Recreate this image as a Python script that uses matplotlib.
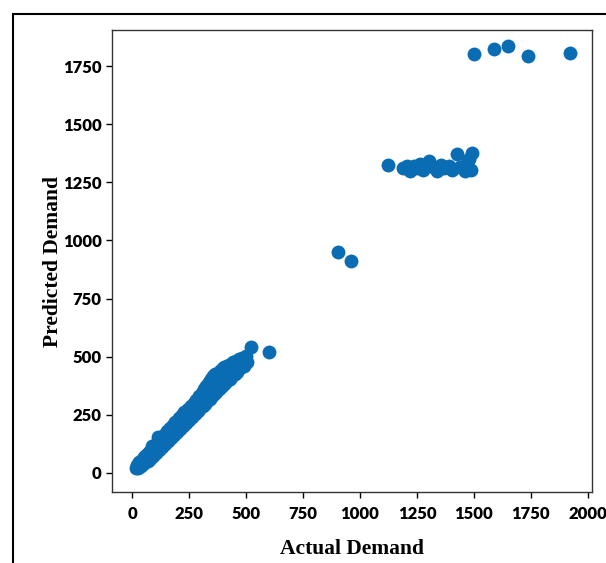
import matplotlib.pyplot as plt
from matplotlib.patches import Rectangle

# low-demand cluster (actual, predicted)
actual_low = [18, 22, 28, 32, 38, 42, 48, 52, 58, 62,
              68, 75, 80, 88, 92, 100, 105, 114, 120, 125,
              132, 140, 146, 152, 158, 165, 170, 178, 185, 190,
              198, 205, 210, 218, 225, 230, 238, 245, 250, 258,
              262, 270, 276, 282, 288, 295, 300, 305, 310, 315,
              320, 326, 330, 336, 340, 345, 350, 356, 360, 365,
              370, 375, 380, 385, 390, 395, 400, 405, 410, 415,
              420, 425, 430, 436, 440, 445, 450, 455, 462, 468,
              475, 482, 490, 498, 505, 520, 600]
predicted_low = [22, 34, 20, 45, 28, 55, 38, 68, 45, 78,
                 52, 90, 62, 118, 75, 122, 85, 155, 100, 150,
                 112, 165, 125, 180, 138, 195, 150, 205, 165, 220,
                 178, 235, 190, 250, 200, 262, 215, 275, 228, 290,
                 240, 300, 252, 315, 265, 330, 278, 345, 290, 360,
                 298, 375, 310, 390, 320, 405, 330, 415, 340, 425,
                 350, 430, 360, 440, 370, 445, 378, 455, 388, 460,
                 398, 465, 405, 470, 415, 475, 425, 480, 435, 488,
                 450, 495, 460, 505, 478, 540, 520]

# mid points
actual_mid = [903, 960]
predicted_mid = [950, 911]

# ~1300 cluster
actual_1300 = [1123, 1190, 1205, 1220, 1235, 1250, 1262, 1275, 1290, 1305,
               1320, 1340, 1355, 1370, 1390, 1405, 1425, 1440, 1460, 1470,
               1480, 1491, 1485]
predicted_1300 = [1325, 1310, 1318, 1300, 1322, 1312, 1330, 1305, 1320, 1340,
                  1315, 1300, 1325, 1310, 1318, 1302, 1370, 1315, 1300, 1335,
                  1350, 1376, 1305]

# top points
actual_high = [1500, 1588, 1649, 1737, 1921]
predicted_high = [1801, 1823, 1836, 1793, 1806]

x_ticks = [0, 250, 500, 750, 1000, 1250, 1500, 1750, 2000]
y_ticks = [0, 250, 500, 750, 1000, 1250, 1500, 1750]

color = '#0a6db3'

fig = plt.figure(figsize=(6.06, 5.63), dpi=100)
ax = fig.add_axes([0.1848, 0.1261, 0.7921, 0.8206])

for xs, ys in [(actual_low, predicted_low), (actual_mid, predicted_mid),
               (actual_1300, predicted_1300), (actual_high, predicted_high)]:
    ax.scatter(xs, ys, s=100, color=color, linewidths=0)

ax.set_xlim(-88, 2018)
ax.set_ylim(-82, 1905)
ax.set_xticks(x_ticks)
ax.set_yticks(y_ticks)
ax.tick_params(direction='out', length=4, width=1)
ax.tick_params(axis='x', pad=6)
for lab in ax.get_xticklabels() + ax.get_yticklabels():
    lab.set_fontfamily('Lato')
    lab.set_fontweight('heavy')
    lab.set_fontsize(12)

ax.set_xlabel('Actual Demand', fontfamily='Liberation Serif', fontweight='bold',
              fontsize=15.5, labelpad=12)
ax.set_ylabel('Predicted Demand', fontfamily='Liberation Serif', fontweight='bold',
              fontsize=15.5, labelpad=0)

for sp in ax.spines.values():
    sp.set_linewidth(1.0)
    sp.set_color('#333333')

# outer frame
fig.add_artist(Rectangle((13 / 606, -0.2), 1.5, 1.2 - 14 / 563,
                         transform=fig.transFigure, fill=False,
                         edgecolor='black', linewidth=1.5))

fig.savefig('out.png', dpi=100)
